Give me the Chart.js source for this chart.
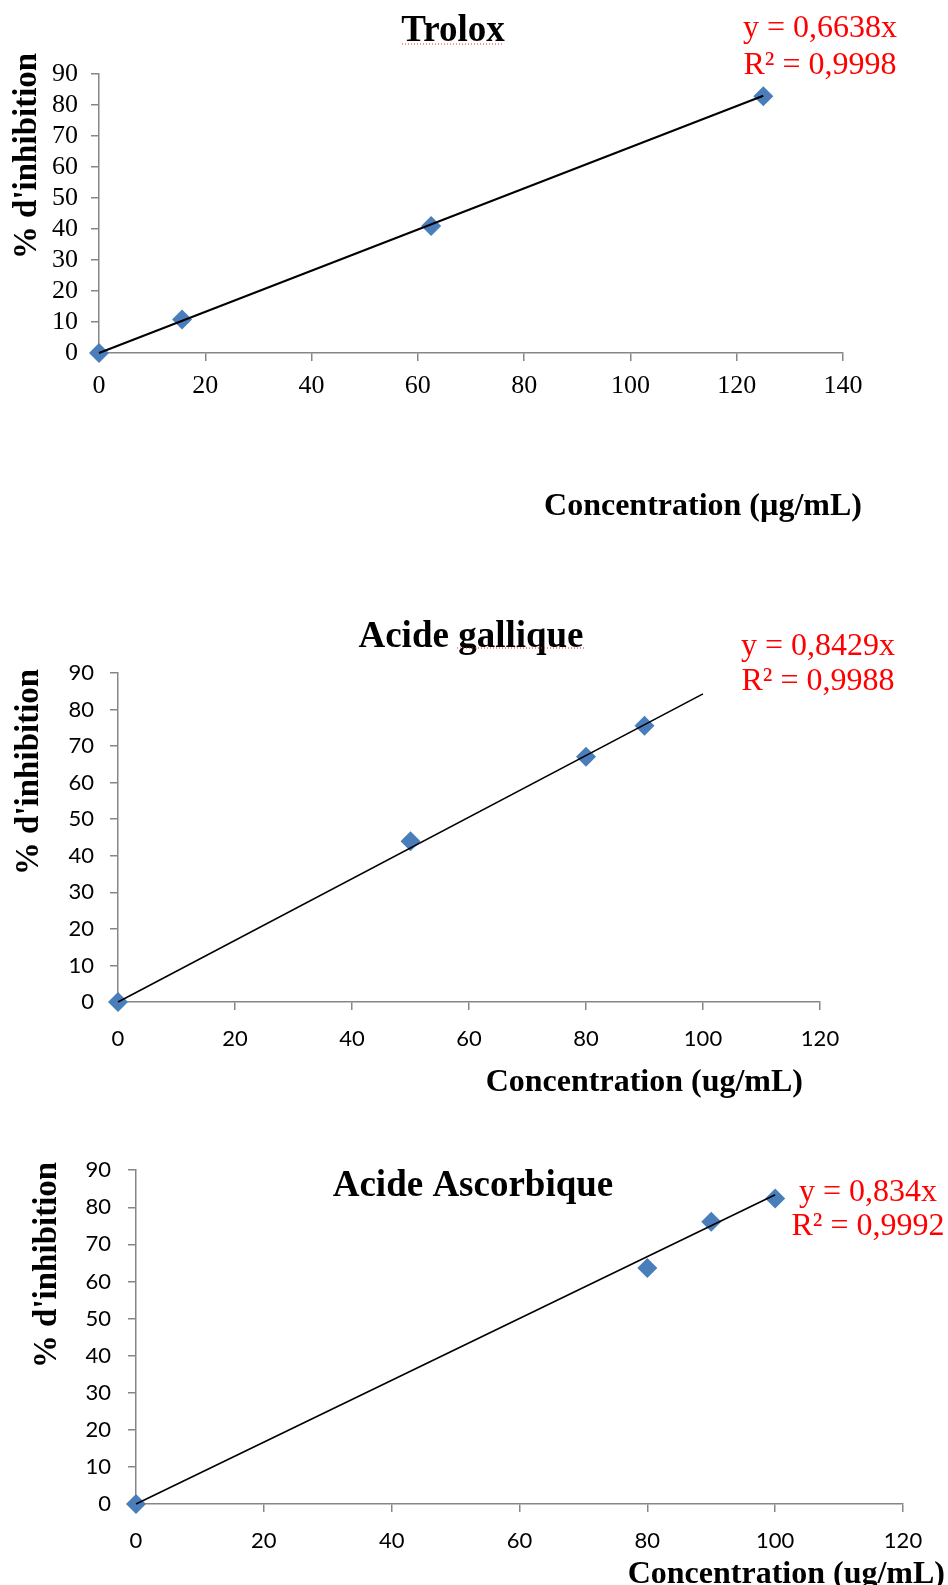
<!DOCTYPE html>
<html>
<head>
<meta charset="utf-8">
<script src="https://cdn.jsdelivr.net/npm/chart.js@4.4.1/dist/chart.umd.min.js"></script>
<style>
  body { margin: 0; background: #fff; }
  #page { position: relative; width: 948px; height: 1585px; overflow: hidden; }
  canvas { position: absolute; left: 0; }
</style>
</head>
<body>
<div id="page">
  <canvas id="trolox" width="948" height="530" style="top:0"></canvas>
  <canvas id="gallique" width="948" height="500" style="top:600px"></canvas>
  <canvas id="ascorbique" width="948" height="445" style="top:1140px"></canvas>
</div>
<script>
// Trolox
const trolConc = [0, 15.625, 62.5, 125];
const trolInhib = [0, 10.8, 41, 82.8];
const trolSlope = 0.6638;
const trolR2 = 0.9998;
const trolTrendEnd = 125;

// Acide gallique
const galConc = [0, 50, 80, 90];
const galInhib = [0, 44, 67.1, 75.6];
const galSlope = 0.8429;
const galR2 = 0.9988;
const galTrendEnd = 100;

// Acide ascorbique
const ascConc = [0, 80, 90, 100];
const ascInhib = [0, 63.6, 76.1, 82.4];
const ascSlope = 0.834;
const ascR2 = 0.9992;
const ascTrendEnd = 100;

const yTicks = [0, 10, 20, 30, 40, 50, 60, 70, 80, 90];

const SERIF = '"Liberation Serif", "Times New Roman", serif';
const SANS = 'Lato, "Open Sans", sans-serif';
const AXIS_GREY = '#868686';
const MARKER_BLUE = '#4A7EBB';
const TEXT_DY = 3; // serif glyphs sit a bit high with the 'middle' baseline

function fr(v, digits) {
  return v.toFixed(digits).replace('.', ',');
}

function makeChart(id, conc, inhib, slope, r2, trendEnd, cfg) {
  const canvas = document.getElementById(id);
  const W = canvas.width, H = canvas.height;
  const a = cfg.area;

  // titles, equation and axis names drawn over the chart
  const decor = {
    id: 'decor',
    afterDraw(chart) {
      const ctx = chart.ctx;
      ctx.save();
      ctx.fillStyle = '#000';
      ctx.textBaseline = 'middle';

      ctx.font = 'bold 37px ' + SERIF;
      ctx.textAlign = 'center';
      ctx.fillText(cfg.title, cfg.titlePos[0], cfg.titlePos[1] + TEXT_DY);

      if (cfg.squiggle) {
        const s = cfg.squiggle;
        ctx.strokeStyle = '#e03030';
        ctx.lineWidth = 1;
        ctx.setLineDash([1, 2]);
        ctx.beginPath();
        ctx.moveTo(s[0], s[2]);
        ctx.lineTo(s[1], s[2]);
        ctx.stroke();
        ctx.setLineDash([]);
      }

      ctx.fillStyle = '#ff0000';
      ctx.font = '32px ' + SERIF;
      ctx.fillText('y = ' + fr(slope, String(slope).split('.')[1].length) + 'x', cfg.eqX, cfg.eqY[0] + TEXT_DY);
      ctx.fillText('R² = ' + fr(r2, 4), cfg.eqX, cfg.eqY[1] + TEXT_DY);

      ctx.fillStyle = '#000';
      ctx.font = 'bold 32px ' + SERIF;
      ctx.textAlign = 'right';
      ctx.fillText(cfg.xTitle, cfg.xTitlePos[0], cfg.xTitlePos[1] + TEXT_DY);

      ctx.translate(cfg.yTitlePos[0] + TEXT_DY, cfg.yTitlePos[1]);
      ctx.rotate(-Math.PI / 2);
      ctx.textAlign = 'center';
      ctx.font = 'bold 33px ' + SERIF;
      ctx.fillText("% d'inhibition", 0, 0);
      ctx.restore();
    }
  };

  return new Chart(canvas, {
    type: 'scatter',
    data: {
      datasets: [
        {
          label: 'trend',
          type: 'line',
          data: [{ x: 0, y: 0 }, { x: trendEnd, y: slope * trendEnd }],
          borderColor: '#000',
          borderWidth: cfg.trendWidth,
          pointRadius: 0,
          clip: false,
          order: 0
        },
        {
          label: 'points',
          data: conc.map((c, i) => ({ x: c, y: inhib[i] })),
          pointStyle: 'rectRot',
          pointRadius: 10,
          pointHoverRadius: 10,
          backgroundColor: MARKER_BLUE,
          borderColor: MARKER_BLUE,
          borderWidth: 0,
          clip: false,
          order: 1
        }
      ]
    },
    options: {
      responsive: false,
      animation: false,
      layout: { padding: { left: 0, top: a.top, right: W - a.right, bottom: 0 } },
      plugins: { legend: { display: false }, tooltip: { enabled: false } },
      scales: {
        x: {
          type: 'linear',
          min: 0,
          max: cfg.xMax,
          afterFit: s => { s.height = H - a.bottom; },
          afterBuildTicks: s => { s.ticks = cfg.xTicks.map(v => ({ value: v })); },
          border: { color: AXIS_GREY, width: 1.5 },
          grid: { drawOnChartArea: false, drawTicks: true, tickLength: 8, color: AXIS_GREY, lineWidth: 1.5 },
          ticks: { color: '#000', font: { family: cfg.tickFont, size: cfg.tickSize }, padding: cfg.xPad, maxRotation: 0, autoSkip: false }
        },
        y: {
          min: 0,
          max: 90,
          afterFit: s => { s.width = a.left; },
          afterBuildTicks: s => { s.ticks = yTicks.map(v => ({ value: v })); },
          border: { color: AXIS_GREY, width: 1.5 },
          grid: { drawOnChartArea: false, drawTicks: true, tickLength: 8, color: AXIS_GREY, lineWidth: 1.5 },
          ticks: { color: '#000', font: { family: cfg.tickFont, size: cfg.tickSize }, padding: cfg.yPad, autoSkip: false }
        }
      }
    },
    plugins: [decor]
  });
}

makeChart('trolox', trolConc, trolInhib, trolSlope, trolR2, trolTrendEnd, {
  area: { left: 99, right: 843, top: 74, bottom: 353 },
  xMax: 140,
  xTicks: [0, 20, 40, 60, 80, 100, 120, 140],
  tickFont: SERIF, tickSize: 26, xPad: 10, yPad: 13,
  trendWidth: 2,
  title: 'Trolox', titlePos: [453, 28], squiggle: [402, 504, 44],
  eqX: 820, eqY: [26, 63],
  xTitle: 'Concentration (µg/mL)', xTitlePos: [862, 504],
  yTitlePos: [24, 156]
});

makeChart('gallique', galConc, galInhib, galSlope, galR2, galTrendEnd, {
  area: { left: 118, right: 820, top: 73, bottom: 402 },
  xMax: 120,
  xTicks: [0, 20, 40, 60, 80, 100, 120],
  tickFont: SANS, tickSize: 22, xPad: 16, yPad: 16,
  trendWidth: 1.6,
  title: 'Acide gallique', titlePos: [471, 34], squiggle: [457, 584, 48],
  eqX: 818, eqY: [44, 79],
  xTitle: 'Concentration (ug/mL)', xTitlePos: [803, 480],
  yTitlePos: [26, 172]
});

makeChart('ascorbique', ascConc, ascInhib, ascSlope, ascR2, ascTrendEnd, {
  area: { left: 136, right: 903, top: 29, bottom: 364 },
  xMax: 120,
  xTicks: [0, 20, 40, 60, 80, 100, 120],
  tickFont: SANS, tickSize: 22, xPad: 16, yPad: 17,
  trendWidth: 1.6,
  title: 'Acide Ascorbique', titlePos: [473, 43], squiggle: null,
  eqX: 868, eqY: [50, 84],
  xTitle: 'Concentration (ug/mL)', xTitlePos: [945, 432],
  yTitlePos: [44, 125]
});
</script>
</body>
</html>
